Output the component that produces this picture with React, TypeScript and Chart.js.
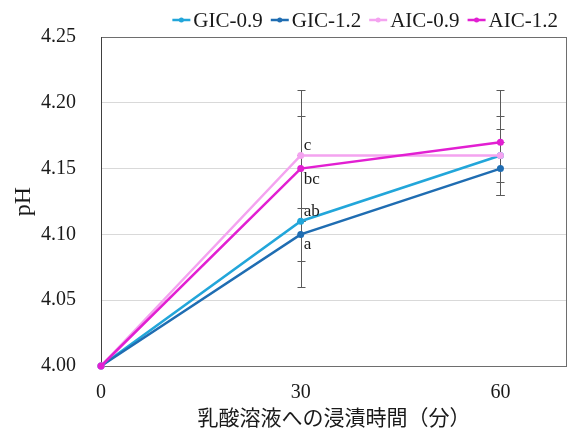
import React, { useEffect, useRef } from 'react';
import { Chart, registerables } from 'chart.js';

Chart.register(...registerables);

// ---- data ----
const timeMinutes = [0, 30, 60];
const seriesNames = ['GIC-0.9', 'GIC-1.2', 'AIC-0.9', 'AIC-1.2'];
const gic09 = [4.0, 4.11, 4.16];
const gic12 = [4.0, 4.1, 4.15];
const aic09 = [4.0, 4.16, 4.16];
const aic12 = [4.0, 4.15, 4.17];
const gic09Err = [0, 0.05, 0.02];
const gic12Err = [0, 0.02, 0.02];
const aic09Err = [0, 0.05, 0.03];
const aic12Err = [0, 0.04, 0.04];
const gic09Sig = ['', 'ab', ''];
const gic12Sig = ['', 'a', ''];
const aic09Sig = ['', 'c', ''];
const aic12Sig = ['', 'bc', ''];
const yTickValues = [4.0, 4.05, 4.1, 4.15, 4.2, 4.25];
const xTickValues = [0, 30, 60];
const xMin = 0;
const xMax = 70;
const xTitle = '乳酸溶液への浸漬時間（分）';
const yTitle = 'pH';

const SERIF = '"Liberation Serif", "Times New Roman", serif';
const CJK = '"Noto Sans CJK JP", sans-serif';
const colors = ['#22a6da', '#1f6db2', '#f4a3f0', '#e21fd2'];
const labelPlacement = ['above', 'below', 'above', 'below'];

const values = [gic09, gic12, aic09, aic12];
const errors = [gic09Err, gic12Err, aic09Err, aic12Err];
const sigs = [gic09Sig, gic12Sig, aic09Sig, aic12Sig];

const errorBarPlugin = {
  id: 'errorBarsAndFrame',
  beforeDatasetsDraw(chart: any) {
    const { ctx, chartArea, scales } = chart;
    const xs = scales.x;
    const ys = scales.y;
    ctx.save();
    // frame
    ctx.strokeStyle = '#6e6e6e';
    ctx.lineWidth = 1;
    ctx.strokeRect(chartArea.left + 0.5, chartArea.top + 0.5, chartArea.right - chartArea.left - 1, chartArea.bottom - chartArea.top);
    ctx.strokeStyle = '#404040';
    ctx.beginPath();
    ctx.moveTo(chartArea.left + 0.5, chartArea.top);
    ctx.lineTo(chartArea.left + 0.5, chartArea.bottom + 0.5);
    ctx.stroke();
    // error bars
    ctx.strokeStyle = '#5a5a5a';
    ctx.lineWidth = 1;
    chart.data.datasets.forEach((ds: any) => {
      ds.data.forEach((p: any, i: number) => {
        const e = ds.errorValues[i];
        if (!e) return;
        const x = Math.round(xs.getPixelForValue(p.x)) + 0.5;
        const y1 = Math.round(ys.getPixelForValue(p.y + e)) + 0.5;
        const y2 = Math.round(ys.getPixelForValue(p.y - e)) + 0.5;
        ctx.beginPath();
        ctx.moveTo(x, y1);
        ctx.lineTo(x, y2);
        ctx.moveTo(x - 4, y1);
        ctx.lineTo(x + 4, y1);
        ctx.moveTo(x - 4, y2);
        ctx.lineTo(x + 4, y2);
        ctx.stroke();
      });
    });
    ctx.restore();
  },
  afterDraw(chart: any) {
    const { ctx, scales } = chart;
    const xs = scales.x;
    const ys = scales.y;
    ctx.save();
    // significance letters
    ctx.font = `17px ${SERIF}`;
    ctx.fillStyle = '#1a1a1a';
    ctx.textAlign = 'left';
    ctx.textBaseline = 'alphabetic';
    chart.data.datasets.forEach((ds: any) => {
      ds.data.forEach((p: any, i: number) => {
        const s = ds.sigLabels[i];
        if (!s) return;
        const px = xs.getPixelForValue(p.x);
        const py = ys.getPixelForValue(p.y);
        const by = ds.labelPlacement === 'above' ? py - 5 : py + 15;
        ctx.fillText(s, px + 3, by);
      });
    });
    // legend
    ctx.font = `21px ${SERIF}`;
    const lineLen = 18;
    const textGap = 3;
    const itemGap = 8;
    const widths = chart.data.datasets.map((ds: any) => ctx.measureText(ds.label).width);
    const total = widths.reduce((a: number, w: number) => a + lineLen + textGap + w, 0) + itemGap * (widths.length - 1);
    let x = 558 - total;
    const cy = 20;
    chart.data.datasets.forEach((ds: any, i: number) => {
      ctx.strokeStyle = ds.borderColor;
      ctx.lineWidth = 2.5;
      ctx.beginPath();
      ctx.moveTo(x, cy);
      ctx.lineTo(x + lineLen, cy);
      ctx.stroke();
      ctx.fillStyle = ds.borderColor;
      ctx.beginPath();
      ctx.arc(x + lineLen / 2, cy, 2.5, 0, Math.PI * 2);
      ctx.fill();
      ctx.fillStyle = '#1a1a1a';
      ctx.fillText(ds.label, x + lineLen + textGap, cy + 7);
      x += lineLen + textGap + widths[i] + itemGap;
    });
    ctx.restore();
  },
};

export default function App() {
  const ref = useRef<HTMLCanvasElement | null>(null);
  useEffect(() => {
    if (!ref.current) return;
    const datasets = seriesNames.map((name, i) => ({
      label: name,
      data: timeMinutes.map((t, j) => ({ x: t, y: values[i][j] })),
      errorValues: errors[i],
      sigLabels: sigs[i],
      labelPlacement: labelPlacement[i],
      borderColor: colors[i],
      backgroundColor: colors[i],
      pointBackgroundColor: colors[i],
      pointBorderColor: colors[i],
      borderWidth: 2.5,
      pointRadius: 3.5,
      pointBorderWidth: 0,
      tension: 0,
      clip: false,
      order: 3 - i,
    }));
    const chart = new Chart(ref.current, {
      type: 'line',
      data: { datasets } as any,
      options: {
        responsive: false,
        animation: false,
        devicePixelRatio: 1,
        layout: { padding: { left: 0, right: 4, top: 36, bottom: 0 } },
        plugins: { legend: { display: false }, tooltip: { enabled: false } },
        scales: {
          x: {
            type: 'linear',
            min: xMin,
            max: xMax,
            afterBuildTicks: (s: any) => {
              s.ticks = xTickValues.map((v) => ({ value: v }));
            },
            afterFit: (s: any) => {
              s.height = 63;
            },
            grid: { display: false, drawTicks: false },
            border: { display: false },
            ticks: {
              font: { family: SERIF, size: 20 },
              color: '#1a1a1a',
              padding: 15,
              maxRotation: 0,
              autoSkip: false,
            },
            title: {
              display: true,
              text: xTitle,
              font: { family: CJK, size: 21 },
              color: '#1a1a1a',
              padding: { top: 0, bottom: -1 },
            },
          },
          y: {
            type: 'linear',
            min: yTickValues[0],
            max: yTickValues[yTickValues.length - 1],
            afterBuildTicks: (s: any) => {
              s.ticks = yTickValues.map((v) => ({ value: v }));
            },
            afterFit: (s: any) => {
              s.width = 101;
            },
            grid: { display: true, drawTicks: false, color: '#d9d9d9', lineWidth: 1 },
            border: { display: false },
            ticks: {
              font: { family: SERIF, size: 20 },
              color: '#1a1a1a',
              padding: 25,
              callback: (v: any) => Number(v).toFixed(2),
            },
            title: {
              display: true,
              text: yTitle,
              font: { family: SERIF, size: 24 },
              color: '#1a1a1a',
              padding: { top: 9, bottom: 0 },
            },
          },
        },
      },
      plugins: [errorBarPlugin],
    } as any);
    return () => chart.destroy();
  }, []);
  return (
    <div style={{ position: 'absolute', left: 0, top: 0, width: 571, height: 429, background: '#fff' }}>
      <canvas ref={ref} width={571} height={429} style={{ width: 571, height: 429, display: 'block' }} />
    </div>
  );
}
